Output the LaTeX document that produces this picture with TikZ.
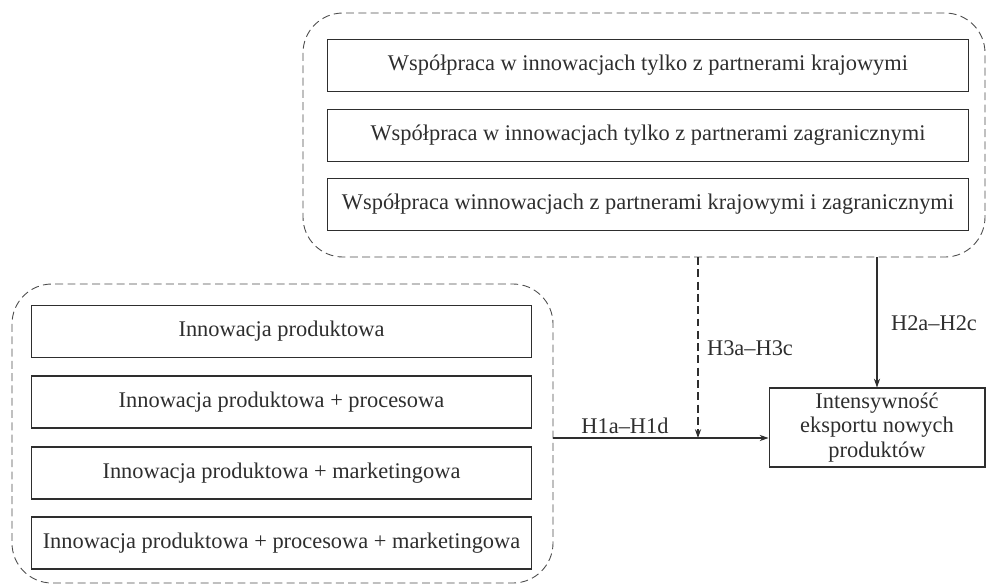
\documentclass[tikz,border=0pt]{standalone}
\usepackage{fontspec}
\setmainfont{Liberation Serif}
\usetikzlibrary{arrows.meta}
\definecolor{ink}{gray}{0.18}
\tikzset{
  box/.style={draw=ink,line width=0.6pt,minimum height=1.04cm,inner sep=0pt,text=ink},
  grp/.style={draw=ink!85,line width=0.5pt,dash pattern=on 4.5pt off 2.5pt,rounded corners=0.8cm},
  arr/.style={draw=ink,line width=0.6pt,-{Stealth[length=5pt,width=3.5pt]}},
  lbl/.style={text=ink}
}
\begin{document}
\begin{tikzpicture}[x=0.02cm,y=-0.02cm,font=\fontsize{12.75}{14}\selectfont]
      \useasboundingbox (0,0) rectangle (988,586);
      \draw[grp] (303,13) rectangle (985,257);
      \draw[grp] (12,284) rectangle (553,583);
      \node[box,minimum width=12.84cm] (wk) at (648,65.5) {Współpraca w innowacjach tylko z partnerami krajowymi};
      \node[box,minimum width=12.84cm] (wz) at (648,135.5) {Współpraca w innowacjach tylko z partnerami zagranicznymi};
      \node[box,minimum width=12.84cm] (wkz) at (648,204.5) {Współpraca winnowacjach z partnerami krajowymi i zagranicznymi};
      \node[box,minimum width=10.02cm] (ip) at (281.5,331.5) {Innowacja produktowa};
      \node[box,minimum width=10.02cm] (ipp) at (281.5,402) {Innowacja produktowa + procesowa};
      \node[box,minimum width=10.02cm] (ipm) at (281.5,473) {Innowacja produktowa + marketingowa};
      \node[box,minimum width=10.02cm] (ippm) at (281.5,543) {Innowacja produktowa + procesowa + marketingowa};
      \node[box,minimum width=4.32cm,minimum height=1.58cm,align=center] (tgt) at (877,427.5) {Intensywność\\eksportu nowych\\produktów};
      \coordinate (h1s) at (553,438);
      \coordinate (h3s) at (698,257);
      \coordinate (h2s) at (877,257);
      \draw[arr] (h1s) -- (h1s -| tgt.west);
      \draw[arr,dash pattern=on 4.5pt off 2.5pt] (h3s) -- (h3s |- h1s);
      \draw[arr] (h2s) -- (tgt.north);
      \node[lbl] (l1) at (625,426) {H1a–H1d};
      \node[lbl] (l3) at (750,348) {H3a–H3c};
      \node[lbl] (l2) at (934,323) {H2a–H2c};
    \end{tikzpicture}
\end{document}
